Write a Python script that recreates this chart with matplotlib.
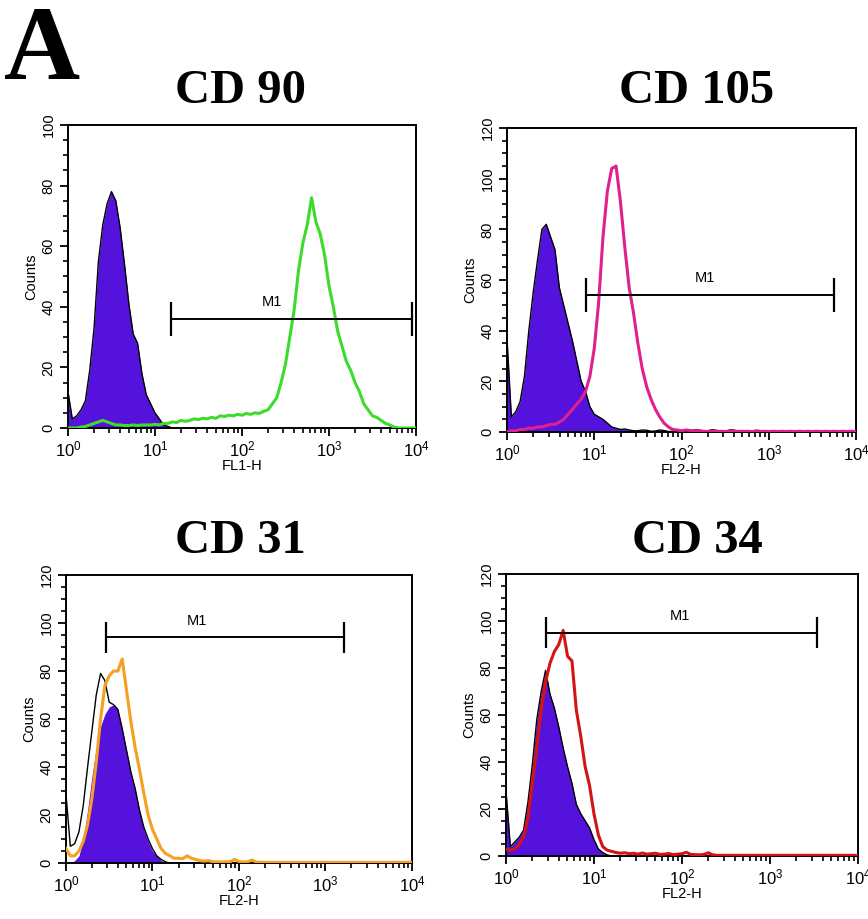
import matplotlib
matplotlib.use("Agg")
import matplotlib.pyplot as plt
import numpy as np
from matplotlib.ticker import MultipleLocator, LogLocator, NullFormatter, FixedLocator, FixedFormatter

plt.rcParams['font.family'] = ['Liberation Sans', 'DejaVu Sans']
plt.rcParams['mathtext.fontset'] = 'custom'
plt.rcParams['mathtext.rm'] = 'Liberation Sans'
plt.rcParams['mathtext.default'] = 'regular'

# channel step in decades (values start at 10^0)
STEP = 0.05

# CD 90 (FL1-H)
cd90_ctrl = [12, 3, 4, 6, 9, 19, 33, 55, 67, 74, 78, 75, 66, 54, 41, 31, 28, 18, 11, 8,
             5, 3, 1, 0.5, 0]
cd90_line = [0, 0, 0, 0.3, 0.5, 1, 1.5, 2, 2.5, 2, 1.5, 1, 1, 0.8, 0.8, 1, 0.8, 1, 1, 1,
             1.2, 1, 1.5, 1.5, 2, 1.8, 2.5, 2.2, 2.5, 3, 2.8, 3.2, 3, 3.5, 3.2, 4, 3.8, 4.2, 4, 4.5,
             4.2, 4.8, 4.5, 5, 4.8, 5.5, 6, 8, 10, 15, 21, 30, 39, 52, 61, 67, 76, 68, 64, 57,
             47, 40, 32, 27, 22, 19, 15, 12, 8, 6, 4, 3.5, 2.5, 1.5, 1, 0.3, 0, 0, 0, 0, 0]

# CD 105 (FL2-H)
cd105_ctrl = [37, 6, 8, 12, 22, 40, 55, 68, 80, 82, 77, 72, 57, 50, 43, 36, 28, 20, 16, 10,
              7, 6, 5, 3.5, 2, 1.5, 1, 1.2, 0.8, 0.5, 0.5, 0.8, 0.7, 0.3, 0.4, 0.8, 0.6, 0.2, 0.3, 0.6,
              0.5, 0.2, 0.6, 0.8, 0.8, 0.3, 0.5, 0.9, 0.7, 0.2, 0.3, 0.8, 0.8, 0.3, 0.6, 0.2, 0.2, 0.7,
              0.6, 0.1, 0.4, 0]
cd105_line = [0, 0.5, 0.5, 1, 1, 1.5, 1.5, 2, 2, 2.5, 3, 3, 4, 5, 7, 9, 11, 13, 16, 22,
              33, 51, 77, 95, 104, 105, 91, 73, 57, 47, 35, 25, 18, 13, 9, 6, 3.5, 2, 1, 0.8,
              0.5, 0.8, 0.6, 0.3, 0.5, 0.3, 0.2, 0.3, 0.2, 0.3, 0.2, 0.3, 0.2, 0.3, 0.2, 0.3, 0.2, 0.3,
              0.2, 0.3, 0.2, 0.3, 0.2, 0.3, 0.2, 0.3, 0.2, 0.3, 0.2, 0.3, 0.2, 0.3, 0.2, 0.3, 0.2, 0.3,
              0.2, 0.3, 0.2, 0.3, 0.2]

# CD 31 (FL2-H)
cd31_fill = [0, 0, 1, 3, 10, 22, 36, 48, 57, 62, 65, 66, 64, 56, 47, 38, 31, 22, 14, 9,
             5, 3, 1, 0]
cd31_outline = [29, 7, 8, 13, 24, 40, 55, 70, 79, 76, 67, 66, 64, 56, 47, 38, 31, 22, 15, 10,
                6, 3, 1.5, 0.5, 0]
cd31_line = [6, 3, 3, 5, 9, 16, 27, 42, 60, 74, 78, 80, 80, 85, 72, 59, 48, 39, 29, 20,
             14, 10, 6, 4, 3, 2, 2, 1.8, 3, 2, 1.5, 1, 0.8, 1, 0.5, 0.5, 0.4, 0.5, 0.6, 1.5,
             0.6, 0.4, 0.5, 1.3, 0.4, 0.3, 0.3, 0.3, 0.3, 0.3, 0.3, 0.3, 0.3, 0.3, 0.3, 0.3, 0.3, 0.3,
             0.3, 0.3, 0.3, 0.3, 0.3, 0.3, 0.3, 0.3, 0.3, 0.3, 0.3, 0.3, 0.3, 0.3, 0.3, 0.3, 0.3, 0.3,
             0.3, 0.3, 0.3, 0.3, 0.3]

# CD 34 (FL2-H)
cd34_ctrl = [28, 4, 6, 8, 11, 23, 39, 58, 70, 79, 69, 63, 55, 46, 38, 31, 22, 18, 15, 12,
             7, 3, 1.5, 0.5, 0]
cd34_line = [3, 2.5, 3, 5, 8, 16, 31, 46, 62, 74, 82, 87, 90, 96, 85, 83, 62, 51, 38, 30,
             18, 9, 4, 2.5, 2, 1.5, 1.2, 1.4, 1, 1.2, 0.8, 1.3, 0.8, 1, 1.2, 0.7, 0.8, 1.1, 0.6, 0.8,
             1, 1.6, 0.7, 0.6, 0.5, 0.7, 1.4, 0.5, 0.3, 0.3, 0.3, 0.3, 0.3, 0.3, 0.3, 0.3, 0.3, 0.3,
             0.3, 0.3, 0.3, 0.3, 0.3, 0.3, 0.3, 0.3, 0.3, 0.3, 0.3, 0.3, 0.3, 0.3, 0.3, 0.3, 0.3, 0.3,
             0.3, 0.3, 0.3, 0.3, 0.3]

# M1 gates: (start decade, end decade, count level, label decade)
cd90_m1 = (1.19, 3.96, 36, 2.34)
cd105_m1 = (0.90, 3.75, 54, 2.27)
cd31_m1 = (0.46, 3.21, 94, 1.51)
cd34_m1 = (0.45, 3.53, 95, 1.98)

PURPLE = '#5512dd'


def chan(vals):
    return 10 ** (np.arange(len(vals)) * STEP)


def panel(rect, ctrl, line, color, ymax, xlab, m1, outline=None):
    ax = fig.add_axes(rect)
    ax.fill_between(chan(ctrl), ctrl, color=PURPLE, lw=0, zorder=2)
    edge = ctrl if outline is None else outline
    ax.plot(chan(edge), edge, color='black', lw=1.0, zorder=3)
    ax.plot(chan(line), line, color=color, lw=2.2, zorder=4)

    x0, x1, lev, xl = m1
    ax.plot([10 ** x0, 10 ** x1], [lev, lev], color='black', lw=1.4, zorder=5)
    cap = ymax * 0.055
    ax.vlines([10 ** x0, 10 ** x1], lev - cap, lev + cap, color='black', lw=1.6, zorder=5)
    ax.text(10 ** xl, lev + cap * 0.6, 'M1', ha='center', va='bottom', fontsize=10.5)

    ax.set_xscale('log')
    ax.set_xlim(1, 1e4)
    ax.set_ylim(0, ymax)
    ax.xaxis.set_major_locator(FixedLocator([1, 10, 100, 1000, 10000]))
    ax.xaxis.set_major_formatter(FixedFormatter([r'$10^0$', r'$10^1$', r'$10^2$', r'$10^3$', r'$10^4$']))
    ax.xaxis.set_minor_locator(LogLocator(base=10, subs=np.arange(2, 10)))
    ax.xaxis.set_minor_formatter(NullFormatter())
    ax.yaxis.set_major_locator(MultipleLocator(20))
    ax.yaxis.set_minor_locator(MultipleLocator(5))
    ax.tick_params(axis='both', which='major', direction='out', length=6, width=1.3)
    ax.tick_params(axis='both', which='minor', direction='out', length=3.5, width=1.2)
    ax.tick_params(axis='x', labelsize=12, pad=2)
    ax.tick_params(axis='y', labelsize=10.5, pad=3)
    for lab in ax.get_yticklabels():
        lab.set_rotation(90)
        lab.set_va('center')
    ax.set_xlabel(xlab, fontsize=10.5, labelpad=0)
    ax.set_ylabel('Counts', fontsize=10.5, labelpad=2)
    for sp in ax.spines.values():
        sp.set_linewidth(1.4)
    return ax


fig = plt.figure(figsize=(8.68, 9.19), dpi=100)

panel([0.0783, 0.5343, 0.4009, 0.3297], cd90_ctrl, cd90_line, '#3ddc2a', 100, 'FL1-H', cd90_m1)
panel([0.5841, 0.5299, 0.4021, 0.3308], cd105_ctrl, cd105_line, '#e0208c', 120, 'FL2-H', cd105_m1)
panel([0.0760, 0.0609, 0.3986, 0.3134], cd31_fill, cd31_line, '#f5a020', 120, 'FL2-H', cd31_m1,
      outline=cd31_outline)
panel([0.5829, 0.0685, 0.4055, 0.3069], cd34_ctrl, cd34_line, '#d41414', 120, 'FL2-H', cd34_m1)

serif = ['Liberation Serif', 'DejaVu Serif']
fig.text(0.005, 0.914, 'A', fontsize=76, fontweight='bold', family=serif, ha='left', va='baseline')
fig.text(0.2765, 0.888, 'CD 90', fontsize=35, fontweight='bold', family=serif, ha='center', va='baseline')
fig.text(0.803, 0.888, 'CD 105', fontsize=35, fontweight='bold', family=serif, ha='center', va='baseline')
fig.text(0.2765, 0.398, 'CD 31', fontsize=35, fontweight='bold', family=serif, ha='center', va='baseline')
fig.text(0.804, 0.398, 'CD 34', fontsize=35, fontweight='bold', family=serif, ha='center', va='baseline')

fig.savefig('out.png', dpi=100)
